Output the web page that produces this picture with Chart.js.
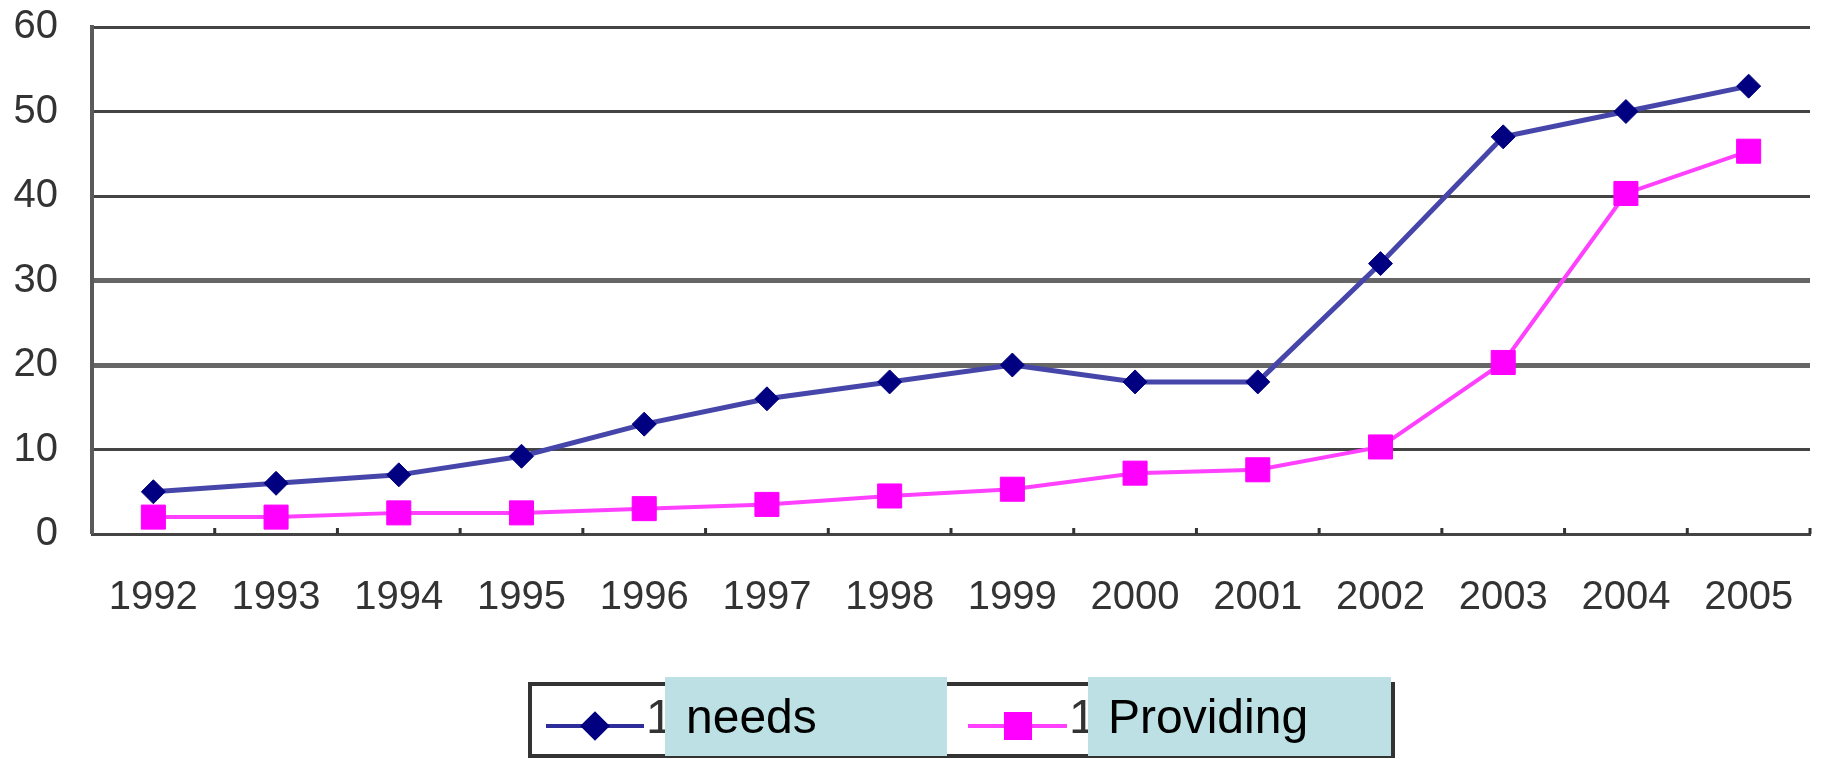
<!DOCTYPE html>
<html>
<head>
    <meta charset="UTF-8">
    <title>Needs and Providing</title>
    <script src="https://cdn.jsdelivr.net/npm/chart.js@4.4.1/dist/chart.umd.min.js"></script>
    <style type="text/css">
        html, body { margin: 0; padding: 0; background: #fff; }
        #wrap { width: 1828px; height: 759px; position: relative; }
    </style>
</head>
<body>

<div id="wrap">
    <canvas id="mainChart"></canvas>
</div>

<script>
    // values
    const years = ['1992', '1993', '1994', '1995', '1996', '1997', '1998', '1999', '2000', '2001', '2002', '2003', '2004', '2005'];
    const needs = [5, 6, 7, 9.2, 13, 16, 18, 20, 18, 18, 32, 47, 50, 53];
    const providing = [2, 2, 2.5, 2.5, 3, 3.5, 4.5, 5.3, 7.2, 7.6, 10.3, 20.3, 40.3, 45.3];
    const legendLabels = ['needs', 'Providing'];
    const yMax = 60;
    const yStep = 10;

    const tickFont = { family: '"Liberation Sans", Arial, sans-serif', size: 40 };

    // small tick marks pointing up from the x axis, between categories
    const innerTicks = {
        id: 'innerTicks',
        afterDatasetsDraw(chart) {
            const xs = chart.scales.x;
            const ctx = chart.ctx;
            const n = years.length;
            ctx.save();
            ctx.strokeStyle = '#333';
            ctx.lineWidth = 3;
            for (let i = 1; i <= n; i++) {
                const x = xs.left + i * xs.width / n;
                ctx.beginPath();
                ctx.moveTo(x, xs.top);
                ctx.lineTo(x, xs.top - 6);
                ctx.stroke();
            }
            ctx.restore();
        }
    };

    // boxed legend with the covered labels
    const boxLegend = {
        id: 'boxLegend',
        afterDraw(chart) {
            const ctx = chart.ctx;
            const ds = chart.data.datasets;
            ctx.save();

            ctx.strokeStyle = '#333';
            ctx.lineWidth = 4;
            ctx.strokeRect(530, 684, 863, 72);

            const items = [
                { x1: 546, x2: 644, mx: 595, frag: 646, box: [665, 677, 282, 79], tx: 686, color: '#2E2E9A' },
                { x1: 968, x2: 1067, mx: 1018, frag: 1069, box: [1088, 677, 303, 79], tx: 1108, color: '#FF40FF' }
            ];
            items.forEach((it, i) => {
                const d = ds[i];
                ctx.strokeStyle = it.color;
                ctx.lineWidth = 4;
                ctx.beginPath();
                ctx.moveTo(it.x1, 726);
                ctx.lineTo(it.x2, 726);
                ctx.stroke();

                ctx.fillStyle = d.pointBackgroundColor;
                ctx.strokeStyle = d.pointBorderColor;
                Chart.helpers.drawPoint(ctx, {
                    pointStyle: d.pointStyle,
                    radius: d.pointRadius,
                    rotation: 0,
                    borderWidth: 1
                }, it.mx, 726);

                ctx.font = '48px "Liberation Sans", Arial, sans-serif';
                ctx.fillStyle = '#333';
                ctx.textBaseline = 'alphabetic';
                ctx.fillText('1', it.frag, 733);

                ctx.fillStyle = '#BCE0E3';
                ctx.fillRect(it.box[0], it.box[1], it.box[2], it.box[3]);

                ctx.fillStyle = '#000';
                ctx.fillText(legendLabels[i], it.tx, 733);
            });
            ctx.restore();
        }
    };

    const ctxMain = document.getElementById('mainChart').getContext('2d');
    new Chart(ctxMain, {
        type: 'line',
        data: {
            labels: years,
            datasets: [
                {
                    label: legendLabels[0],
                    data: needs,
                    borderColor: '#4646AA',
                    borderWidth: 5,
                    pointStyle: 'rectRot',
                    pointRadius: 12,
                    pointBackgroundColor: '#000080',
                    pointBorderColor: '#000080',
                    pointBorderWidth: 1,
                    tension: 0,
                    fill: false
                },
                {
                    label: legendLabels[1],
                    data: providing,
                    borderColor: '#FF40FF',
                    borderWidth: 4,
                    pointStyle: 'rect',
                    pointRadius: 17,
                    pointBackgroundColor: '#FF00FF',
                    pointBorderColor: '#FF00FF',
                    pointBorderWidth: 1,
                    tension: 0,
                    fill: false
                }
            ]
        },
        options: {
            responsive: true,
            maintainAspectRatio: false,
            animation: false,
            layout: { padding: { top: 27, right: 11, left: 0, bottom: 0 } },
            plugins: {
                legend: { display: false },
                tooltip: { enabled: false }
            },
            scales: {
                x: {
                    offset: true,
                    afterFit: (s) => { s.height = 225; s.paddingLeft = 0; s.paddingRight = 0; },
                    grid: { drawOnChartArea: false, drawTicks: false },
                    border: { display: true, color: '#444', width: 3 },
                    ticks: { color: '#333', font: tickFont, padding: 40, maxRotation: 0, autoSkip: false }
                },
                y: {
                    min: 0,
                    max: yMax,
                    afterFit: (s) => { s.width = 92; s.paddingTop = 0; s.paddingBottom = 0; },
                    grid: {
                        drawTicks: false,
                        color: (c) => (c.tick.value === 20 || c.tick.value === 30) ? '#666' : '#444',
                        lineWidth: (c) => c.tick.value === 0 ? 0 : ((c.tick.value === 20 || c.tick.value === 30) ? 5 : 3)
                    },
                    border: { display: true, color: '#5a5a5a', width: 4 },
                    ticks: { stepSize: yStep, color: '#333', font: tickFont, padding: 34 }
                }
            }
        },
        plugins: [innerTicks, boxLegend]
    });
</script>

</body>
</html>
